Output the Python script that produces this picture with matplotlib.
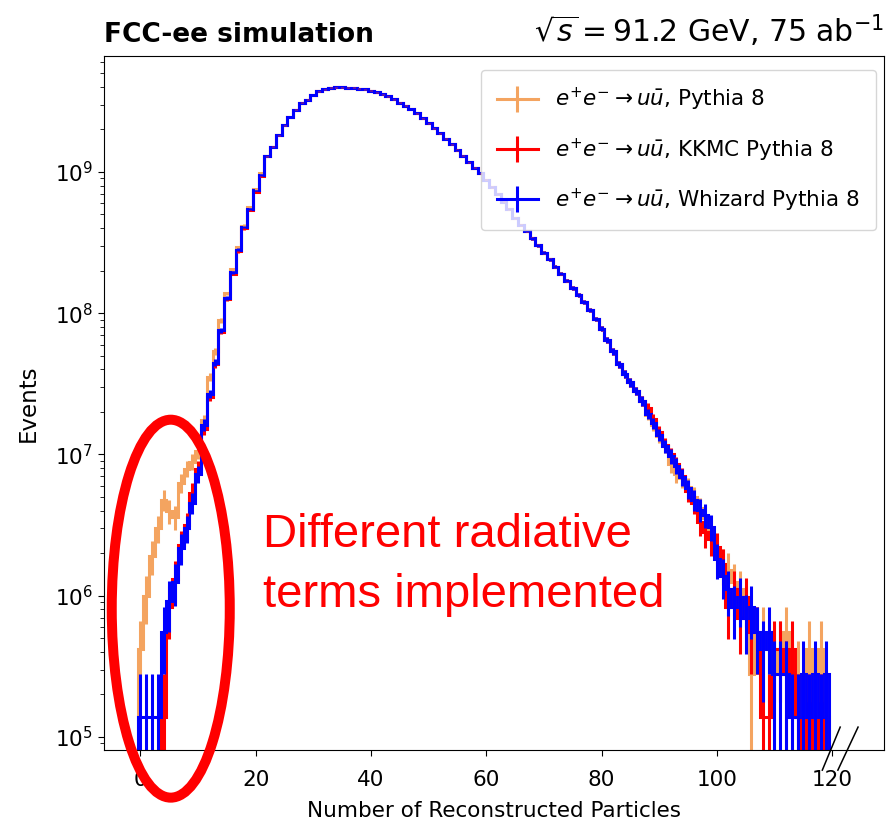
import numpy as np
import matplotlib
matplotlib.use("Agg")
import matplotlib.pyplot as plt
import matplotlib.transforms as mtransforms
from matplotlib.patches import Ellipse
from matplotlib.container import ErrorbarContainer
from matplotlib.legend_handler import HandlerErrorbar

### Multiplicité des particules reconstruites, e+e- -> uu~ à 91.2 GeV

# Poids d'un événement simulé (normalisé à 75 ab^-1)
poids = 1.39e5

# Nombre de particules reconstruites (un bin par entier)
nb_particules = np.arange(0, 120)

# Début de la distribution (0 à 21 particules) : les générateurs diffèrent
debut_pythia = [4.17e5, 1.00e6, 1.91e6, 3.02e6, 4.79e6, 3.98e6, 3.63e6, 6.31e6,
                7.94e6, 8.91e6, 1.05e7, 1.74e7, 3.55e7, 5.37e7, 8.91e7, 1.38e8,
                2.04e8, 2.95e8, 4.17e8, 5.62e8, 7.59e8, 9.77e8]
debut_kkmc = [0, 0, 0, 0, 1.39e5, 8.34e5, 1.32e6, 2.29e6,
              3.16e6, 5.37e6, 7.94e6, 1.51e7, 2.57e7, 4.37e7, 7.41e7, 1.26e8,
              1.91e8, 2.75e8, 3.98e8, 5.37e8, 7.24e8, 9.33e8]
debut_whizard = [1.39e5, 1.39e5, 1.39e5, 1.39e5, 5.56e5, 9.12e5, 1.26e6, 2.19e6,
                 3.02e6, 4.57e6, 7.24e6, 1.62e7, 2.69e7, 4.47e7, 7.59e7, 1.29e8,
                 1.95e8, 2.82e8, 4.07e8, 5.50e8, 7.41e8, 9.55e8]

# Partie centrale commune (22 à 87 particules)
centre = [1.29e9, 1.51e9, 1.82e9, 2.14e9, 2.45e9, 2.75e9, 3.09e9, 3.24e9,
          3.51e9, 3.72e9, 3.85e9, 3.94e9, 3.98e9, 3.98e9, 3.96e9, 3.94e9,
          3.89e9, 3.85e9, 3.76e9, 3.67e9, 3.55e9, 3.43e9, 3.27e9, 3.09e9,
          2.95e9, 2.79e9, 2.60e9, 2.40e9, 2.21e9, 2.04e9, 1.88e9, 1.72e9,
          1.57e9, 1.43e9, 1.30e9, 1.17e9, 1.07e9, 9.77e8, 8.81e8, 7.85e8,
          7.00e8, 6.17e8, 5.50e8, 4.73e8, 4.22e8, 3.80e8, 3.39e8, 3.02e8,
          2.69e8, 2.40e8, 2.14e8, 1.91e8, 1.70e8, 1.51e8, 1.35e8, 1.20e8,
          1.05e8, 9.12e7, 7.76e7, 6.46e7, 5.37e7, 4.37e7, 3.72e7, 3.24e7,
          2.82e7, 2.40e7]

# Queue de la distribution (88 à 119 particules)
queue_pythia = [1.91e7, 1.62e7, 1.35e7, 1.15e7, 8.51e6, 7.24e6, 6.76e6, 5.89e6,
                5.01e6, 4.17e6, 3.55e6, 2.82e6, 1.95e6, 1.67e6, 1.53e6, 1.25e6,
                1.11e6, 8.34e5, 2.78e5, 5.56e5, 5.56e5, 4.17e5, 2.78e5, 4.17e5,
                5.56e5, 2.78e5, 2.78e5, 1.39e5, 4.17e5, 1.39e5, 4.17e5, 1.39e5]
queue_kkmc = [2.14e7, 1.78e7, 1.45e7, 1.17e7, 1.00e7, 8.51e6, 7.08e6, 5.50e6,
              4.57e6, 3.31e6, 2.82e6, 2.51e6, 2.22e6, 1.67e6, 8.34e5, 1.11e6,
              6.95e5, 9.73e5, 5.56e5, 5.56e5, 1.39e5, 1.39e5, 4.17e5, 4.17e5,
              2.78e5, 4.17e5, 1.39e5, 0, 1.39e5, 0, 1.39e5, 0]
queue_whizard = [1.95e7, 1.66e7, 1.38e7, 1.15e7, 9.77e6, 8.32e6, 6.92e6, 5.75e6,
                 4.79e6, 4.07e6, 3.72e6, 3.09e6, 1.81e6, 1.39e6, 1.11e6, 8.34e5,
                 9.73e5, 6.95e5, 8.34e5, 5.56e5, 4.17e5, 5.56e5, 2.78e5, 2.78e5,
                 2.78e5, 1.39e5, 1.39e5, 2.78e5, 1.39e5, 2.78e5, 1.39e5, 2.78e5]

labels = [r"$e^{+}e^{-} \rightarrow u\bar{u}$, Pythia 8",
          r"$e^{+}e^{-} \rightarrow u\bar{u}$, KKMC Pythia 8",
          r"$e^{+}e^{-} \rightarrow u\bar{u}$, Whizard Pythia 8"]
couleurs = ["sandybrown", "red", "blue"]

series = [np.concatenate([debut_pythia, centre, queue_pythia]),
          np.concatenate([debut_kkmc, centre, queue_kkmc]),
          np.concatenate([debut_whizard, centre, queue_whizard])]

bords = np.append(nb_particules - 0.5, nb_particules[-1] + 0.5)

fig = plt.figure(figsize=(8.94, 8.27), dpi=100)
ax = fig.add_axes([0.1163, 0.0931, 0.8725, 0.8392])
ax.set_yscale("log")

# Histogrammes en escalier + barres d'erreur statistiques
for valeurs, couleur, label in zip(series, couleurs, labels):
    erreurs = np.sqrt(valeurs * poids)
    ax.stairs(valeurs, bords, color=couleur, linewidth=2.2)
    ax.errorbar(nb_particules, valeurs, yerr=erreurs, fmt="none",
                ecolor=couleur, elinewidth=2.2)
    # poignée pour la légende (croix)
    ax.errorbar([np.nan], [np.nan], yerr=[1.0], color=couleur, lw=2.2, label=label)

ax.set_xlim(-6.33, 129.0)
ax.set_ylim(8.09e4, 6.62e9)

ax.set_xlabel("Number of Reconstructed Particles", fontsize=15.5, labelpad=8)
ax.set_ylabel("Events", fontsize=16.5, labelpad=11)
ax.tick_params(axis="both", which="major", labelsize=15.5, length=4.5)
ax.tick_params(axis="x", which="major", pad=10)
ax.tick_params(axis="y", which="minor", length=2.6)

ax.set_title("FCC-ee simulation", loc="left", fontweight="bold", fontsize=19, pad=10)
ax.set_title(r"$\sqrt{s} = 91.2$ GeV, 75 ab$^{-1}$", loc="right", fontsize=21.5, pad=10)

ax.legend(loc="upper right", bbox_to_anchor=(0.9897, 0.9798), borderaxespad=0,
          fontsize=15.5, labelspacing=1.06, borderpad=0.75,
          handlelength=1.9, handletextpad=0.8,
          handler_map={ErrorbarContainer: HandlerErrorbar(yerr_size=0.6)})

# Marques de coupure de l'axe x
trans = mtransforms.blended_transform_factory(ax.transData, ax.transAxes)
ax.plot([118.3, 121.4], [-0.029, 0.033], color="black", lw=1.1,
        transform=trans, clip_on=False)
ax.plot([121.0, 124.5], [-0.029, 0.033], color="black", lw=1.1,
        transform=trans, clip_on=False)

# Annotation : région à basse multiplicité
fig.add_artist(Ellipse((0.191, 0.264), 0.132, 0.457, transform=fig.transFigure,
                       fill=False, edgecolor="red", linewidth=7.2))
fig.text(0.294, 0.339, "Different radiative", color="red", fontsize=34,
         family=["Liberation Sans", "DejaVu Sans"], va="baseline")
fig.text(0.294, 0.266, "terms implemented", color="red", fontsize=34,
         family=["Liberation Sans", "DejaVu Sans"], va="baseline")

plt.savefig("out.png", dpi=100)
